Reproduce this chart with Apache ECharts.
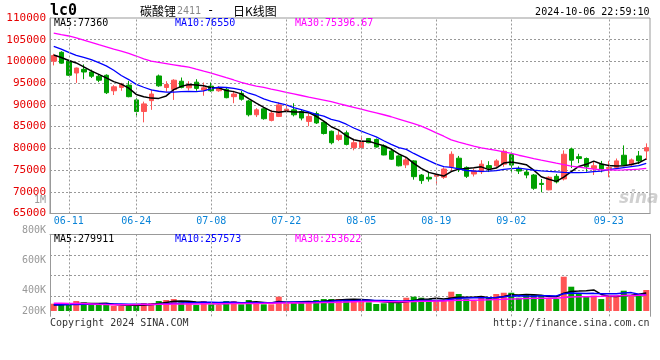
<!DOCTYPE html>
<html><head><meta charset="utf-8">
<script src="https://cdn.jsdelivr.net/npm/echarts@6/dist/echarts.min.js"></script>
<style>html,body{margin:0;padding:0;background:#fff}#c{width:660px;height:360px}</style>
</head><body><div id="c"></div>
<script>
const dates = ['06-06','06-07','06-11','06-12','06-13','06-14','06-17','06-18','06-19','06-20','06-21','06-24','06-25','06-26','06-27','06-28',
'07-01','07-02','07-03','07-04','07-05','07-08','07-09','07-10','07-11','07-12','07-15','07-16','07-17','07-18','07-19','07-22','07-23','07-24','07-25','07-26','07-29','07-30','07-31',
'08-01','08-02','08-05','08-06','08-07','08-08','08-09','08-12','08-13','08-14','08-15','08-16','08-19','08-20','08-21','08-22','08-23','08-26','08-27','08-28','08-29','08-30',
'09-02','09-03','09-04','09-05','09-06','09-09','09-10','09-11','09-12','09-13','09-18','09-19','09-20','09-23','09-24','09-25','09-26','09-27','09-30'];
const labelDates = ['06-11','06-24','07-08','07-22','08-05','08-19','09-02','09-23'];

const opens = [100070,102110,100070,97340,98180,97570,96590,96820,93250,94020,
 94550,91140,88480,90980,96660,94000,93570,95450,93930,95230,
 93410,94320,93250,93570,91890,92660,90910,87730,89090,86430,
 87340,88700,88860,88480,86200,88000,85980,83930,82040,83570,
 80160,80160,82270,82040,80520,79390,78250,76200,77110,73860,
 73340,73560,73340,75750,77730,75610,74090,74610,76020,75980,
 76360,78560,75230,74540,73860,71930,70450,73560,72950,79840,
 78070,77660,75380,76360,75380,75610,78410,76200,78250,79390];
const closes = [101360,99610,96820,98480,97570,96590,95680,92800,94160,94700,
 91890,88480,90230,92500,94390,94700,95680,94020,94700,93800,
 93930,93250,93930,91660,92500,91300,87730,88860,86820,88110,
 90000,89020,87730,86970,87340,85840,83410,81290,83020,80910,
 81290,81660,81290,80300,78470,77500,75980,77340,73480,72570,
 72950,73860,75230,78640,75380,73560,74770,76360,75450,77110,
 79320,76140,74770,73860,70810,71700,73340,72270,78640,77270,
 77660,75750,75980,75230,75610,77110,76140,77340,77110,80160];
const lows = [99090,99480,96660,95070,95910,96200,95230,92500,92270,93250,
 91750,87500,85980,88860,94160,93020,91140,93800,93320,93250,
 92110,93020,93020,91520,90390,90980,87340,87200,86590,86200,
 87200,88110,87340,86430,85070,85610,83180,80910,81660,80680,
 79540,79930,81180,80160,78400,77340,75840,75450,72790,71820,
 72340,71820,72950,74700,74540,73180,73520,74090,74540,75680,
 75750,74320,74090,73110,70450,69880,70340,71930,72610,75450,
 76590,74610,73860,74470,73340,75230,75980,75980,76360,77340];
const highs = [101750,102340,100390,98600,99320,98110,97040,97040,94550,95070,
 95520,91520,90750,93570,96980,95450,95910,96300,95450,95910,
 95160,95160,94320,93930,93250,93250,91140,89250,89250,88860,
 90610,90390,90390,88860,88110,88480,86200,84090,84090,84090,
 82200,82570,82270,82270,80910,79770,78400,78020,77270,74090,
 74610,74610,75610,79300,78250,75840,75340,77270,77040,77500,
 79770,79020,75840,75110,74090,72950,73560,74090,79540,80160,
 78750,77890,76880,77110,77110,77660,80680,77660,79390,81140];

const ma5 = [101500,100910,100230,99660,98768,97814,97028,96224,95360,94786,
 93846,92406,91892,91560,91498,92060,93500,94258,94698,94580,
 94426,93940,93922,93314,93054,92528,91424,90410,89442,88564,
 88304,88562,88336,88366,88212,87380,86258,84970,84180,82894,
 81984,81634,81634,81090,80602,79844,78708,77918,76554,75374,
 74464,74040,73618,74650,75212,75334,75516,75742,75104,75450,
 76602,76876,76558,76240,74980,73456,72896,72396,73352,74644,
 75836,76318,77060,76378,76046,75936,76014,76286,76662,77572];
const ma10 = [103450,102840,102090,101410,100950,100410,99710,98980,97980,96777,
 95830,94717,94058,93460,93142,92953,92953,93075,93129,93039,
 93243,93720,94090,94006,93817,93477,92682,92166,91378,90809,
 90416,89993,89373,88904,88388,87842,87410,86653,86273,85553,
 84682,83946,83302,82635,81748,80914,80171,79776,78822,77988,
 77154,76374,75768,75602,75293,74899,74778,74680,74770,74880,
 75160,75340,75450,75220,75000,74820,74700,74590,74470,74430,
 74430,74470,74660,74770,75110,75340,75570,75790,76020,76550];
const ma30 = [106520,106160,105860,105410,104910,104410,103860,103360,102860,102390,
 101840,101250,100610,100050,99770,99500,99230,98950,98700,98230,
 97770,97320,96820,96270,95730,95180,94700,94320,94020,93640,
 93270,92890,92540,92160,91770,91430,91090,90730,90270,89860,
 89450,89020,88590,88160,87730,87270,86750,86230,85680,85090,
 84360,83540,82790,81930,81430,80950,80520,80130,79820,79540,
 79200,78820,78410,78020,77630,77270,76950,76590,76250,75910,
 75680,75450,75200,75070,75040,75000,75020,75110,75200,75397];

const volumes = [115000,94000,105000,157000,137000,94000,94000,126000,83000,79000,
 79000,94000,126000,126000,157000,173000,188000,137000,121000,94000,
 157000,105000,94000,157000,157000,105000,173000,137000,105000,105000,
 225000,121000,137000,137000,137000,173000,188000,188000,188000,173000,
 188000,173000,137000,110000,121000,157000,121000,209000,225000,209000,
 188000,173000,157000,303000,267000,188000,157000,225000,209000,267000,
 287000,287000,209000,251000,251000,240000,188000,188000,539000,382000,
 267000,225000,240000,188000,240000,240000,319000,251000,267000,330000];
const volMa5 = [95000,100000,105000,115000,121600,117400,117400,121600,106800,95200,
 92200,92200,92200,100800,116400,135200,154000,156200,155200,142600,
 139400,122800,114200,121400,134000,123600,137200,145800,135400,125000,
 149000,138600,138600,145000,151400,141000,154400,164600,174800,182000,
 185000,182000,171800,156200,145800,139600,129200,143600,166600,184200,
 190400,200800,190400,206000,217600,217600,214400,228000,209200,209200,
 229000,255000,251800,260200,257000,247600,227800,223600,281200,307400,
 312800,320200,330600,260400,232000,226600,245400,247600,263400,281400];
const volMa10 = [98000,100000,102000,104000,106000,107000,108000,110000,110000,108400,
 104800,104800,106900,103800,105800,113700,123100,124200,128000,129500,
 137300,138400,135200,138300,138300,131500,130000,130000,128400,129500,
 136300,137900,142200,140200,138200,145000,146500,151600,159900,166700,
 163000,168200,168200,165500,163900,162300,155600,157700,161400,165000,
 165000,165000,167000,186300,200900,204000,207600,209200,207600,213400,
 223300,234700,239900,234700,233100,238300,241400,237700,270700,282200,
 280200,274000,277100,270800,269700,269700,282800,289100,261900,256700];
const volMa30 = [121000,121000,120000,119000,118000,112000,105000,102000,100000,100000,
 100000,101000,102000,103000,105000,107000,109000,110000,111000,112000,
 113000,114000,115000,116000,117000,118000,119000,120000,121000,122500,
 126100,127000,128100,127400,127400,130100,133200,135300,138800,141900,
 145500,148200,148500,148000,146800,146300,144000,146400,149900,153700,
 154800,157000,159100,164000,167700,170400,169900,172800,176300,181700,
 183800,189300,191700,195500,199300,201500,201500,201500,213200,220200,
 222800,224600,228000,230600,234600,237300,243900,245300,246700,250800];

const priceLegend = ['MA5:77360', 'MA10:76550', 'MA30:75396.67'];
const volLegend = ['MA5:279911', 'MA10:257573', 'MA30:253622'];

const RED = '#ff5555', GREEN = '#00a000';
const MONO = 'DejaVu Sans Mono';
const CJK = 'Noto Sans CJK SC';
const GRIDC = '#999', AXISC = '#999';
const isLabelDate = (i, v) => labelDates.indexOf(v) >= 0;
const dotted = {color: GRIDC, type: [2, 2], width: 1};
const vLines = {silent: true, symbol: 'none', label: {show: false}, lineStyle: dotted,
  emphasis: {disabled: true}, data: labelDates.map(d => ({xAxis: d}))};

const candleData = dates.map((d, i) => [opens[i], closes[i], lows[i], highs[i]]);
const volData = volumes.map((v, i) => ({value: v, itemStyle: {color: closes[i] >= opens[i] ? RED : GREEN}}));

function txt(x, y, text, color, font, align) {
  return {type: 'text', x: x, y: y, silent: true, z: 100,
    style: {text: text, fill: color, font: font, align: align || 'left', verticalAlign: 'middle',
            textAlign: align || 'left', textVerticalAlign: 'middle'}};
}

const chart = echarts.init(document.getElementById('c'), null, {renderer: 'canvas'});
chart.setOption({
  animation: false,
  backgroundColor: '#fff',
  grid: [
    {left: 50, top: 18, width: 600, height: 195.5, show: true, borderColor: AXISC, borderWidth: 1},
    {left: 50, top: 234.3, width: 600, height: 82},
    {left: 50, top: 200.7, width: 600, height: 120}
  ],
  xAxis: [
    {gridIndex: 0, type: 'category', data: dates, boundaryGap: true,
     axisLine: {show: true, onZero: false, lineStyle: {color: AXISC}},
     axisTick: {show: false},
     axisLabel: {interval: isLabelDate, color: '#0a84d8', fontFamily: MONO, fontSize: 10, margin: 3},
     splitLine: {show: false}},
    {gridIndex: 1, type: 'category', data: dates, boundaryGap: true, position: 'top',
     axisLine: {show: true, onZero: false, lineStyle: {color: AXISC}},
     axisTick: {show: false}, axisLabel: {show: false}, splitLine: {show: false}},
    {gridIndex: 2, type: 'category', data: dates, show: false}
  ],
  yAxis: [
    {gridIndex: 0, type: 'value', min: 65000, max: 110000, interval: 5000,
     axisLine: {show: true, lineStyle: {color: AXISC}}, axisTick: {show: false},
     axisLabel: {color: '#e60000', fontFamily: MONO, fontSize: 11, margin: 4, padding: [0, 0, 3, 0],
                 formatter: function (v) { return String(v); }},
     splitLine: {show: true, showMinLine: false, showMaxLine: false, lineStyle: dotted}},
    {gridIndex: 1, type: 'value', min: -83000, max: 1205000, interval: 322000,
     axisLine: {show: true, lineStyle: {color: AXISC}}, axisTick: {show: false},
     axisLabel: {show: false},
     splitLine: {show: true, showMinLine: false, showMaxLine: false, lineStyle: dotted}},
    {gridIndex: 1, type: 'value', position: 'right', min: -83000, max: 1205000,
     axisLine: {show: true, lineStyle: {color: AXISC}}, axisTick: {show: false},
     axisLabel: {show: false}, splitLine: {show: false}},
    {gridIndex: 2, type: 'value', min: 200000, max: 1000000, interval: 200000,
     axisLine: {show: false}, axisTick: {show: false}, splitLine: {show: false},
     axisLabel: {color: '#999', fontFamily: MONO, fontSize: 10, margin: 4,
       formatter: function (v) {
         if (v >= 1000000) return '{n|' + (v / 1000000) + 'M}';
         if (v === 200000) return '{lo|' + (v / 1000) + 'K}';
         return '{n|' + (v / 1000) + 'K}';
       },
       rich: {n: {color: '#999', fontFamily: MONO, fontSize: 10},
              lo: {color: '#999', fontFamily: MONO, fontSize: 10, padding: [0, 0, 19, 0]}}}}
  ],
  series: [
    {type: 'candlestick', xAxisIndex: 0, yAxisIndex: 0, data: candleData, barWidth: 5, z: 2,
     itemStyle: {color: RED, color0: GREEN, borderColor: RED, borderColor0: GREEN, borderWidth: 1},
     markLine: vLines},
    {type: 'line', xAxisIndex: 0, yAxisIndex: 0, data: ma5, symbol: 'none', z: 3,
     lineStyle: {color: '#000', width: 1.5}},
    {type: 'line', xAxisIndex: 0, yAxisIndex: 0, data: ma10, symbol: 'none', z: 3,
     lineStyle: {color: '#0000ff', width: 1.3}},
    {type: 'line', xAxisIndex: 0, yAxisIndex: 0, data: ma30, symbol: 'none', z: 3,
     lineStyle: {color: '#ff00ff', width: 1.3}},
    {type: 'bar', xAxisIndex: 1, yAxisIndex: 1, data: volData, barWidth: 6, z: 2,
     markLine: vLines},
    {type: 'line', xAxisIndex: 1, yAxisIndex: 1, data: volMa5, symbol: 'none', z: 3,
     lineStyle: {color: '#000', width: 1.5}},
    {type: 'line', xAxisIndex: 1, yAxisIndex: 1, data: volMa10, symbol: 'none', z: 3,
     lineStyle: {color: '#0000ff', width: 1.5}},
    {type: 'line', xAxisIndex: 1, yAxisIndex: 1, data: volMa30, symbol: 'none', z: 3,
     lineStyle: {color: '#ff00ff', width: 1.5}}
  ],
  graphic: [
    txt(50, 11, 'lc0', '#000', 'bold 15px "' + MONO + '"'),
    txt(140, 11, '碳酸锂', '#000', '12px "' + CJK + '"'),
    txt(177, 11, '2411', '#888', '10px "' + MONO + '"'),
    txt(207, 11, '-', '#000', '12px "' + MONO + '"'),
    txt(233, 11, '日K线图', '#000', '12px "' + CJK + '"'),
    txt(649.5, 12, '2024-10-06 22:59:10', '#000', '10px "' + MONO + '"', 'right'),
    txt(54, 23.5, priceLegend[0], '#000', '10px "' + MONO + '"'),
    txt(175, 23.5, priceLegend[1], '#0000ff', '10px "' + MONO + '"'),
    txt(295, 23.5, priceLegend[2], '#ff00ff', '10px "' + MONO + '"'),
    txt(54, 239, volLegend[0], '#000', '10px "' + MONO + '"'),
    txt(175, 239, volLegend[1], '#0000ff', '10px "' + MONO + '"'),
    txt(295, 239, volLegend[2], '#ff00ff', '10px "' + MONO + '"'),
    txt(50, 323.5, 'Copyright 2024 SINA.COM', '#333', '10px "' + MONO + '"'),
    txt(649.5, 323.5, 'http://finance.sina.com.cn', '#333', '10px "' + MONO + '"', 'right'),
    txt(619, 199, 'sina', 'rgba(170,170,170,0.55)', 'italic bold 17px "DejaVu Sans"')
  ]
});
</script></body></html>
